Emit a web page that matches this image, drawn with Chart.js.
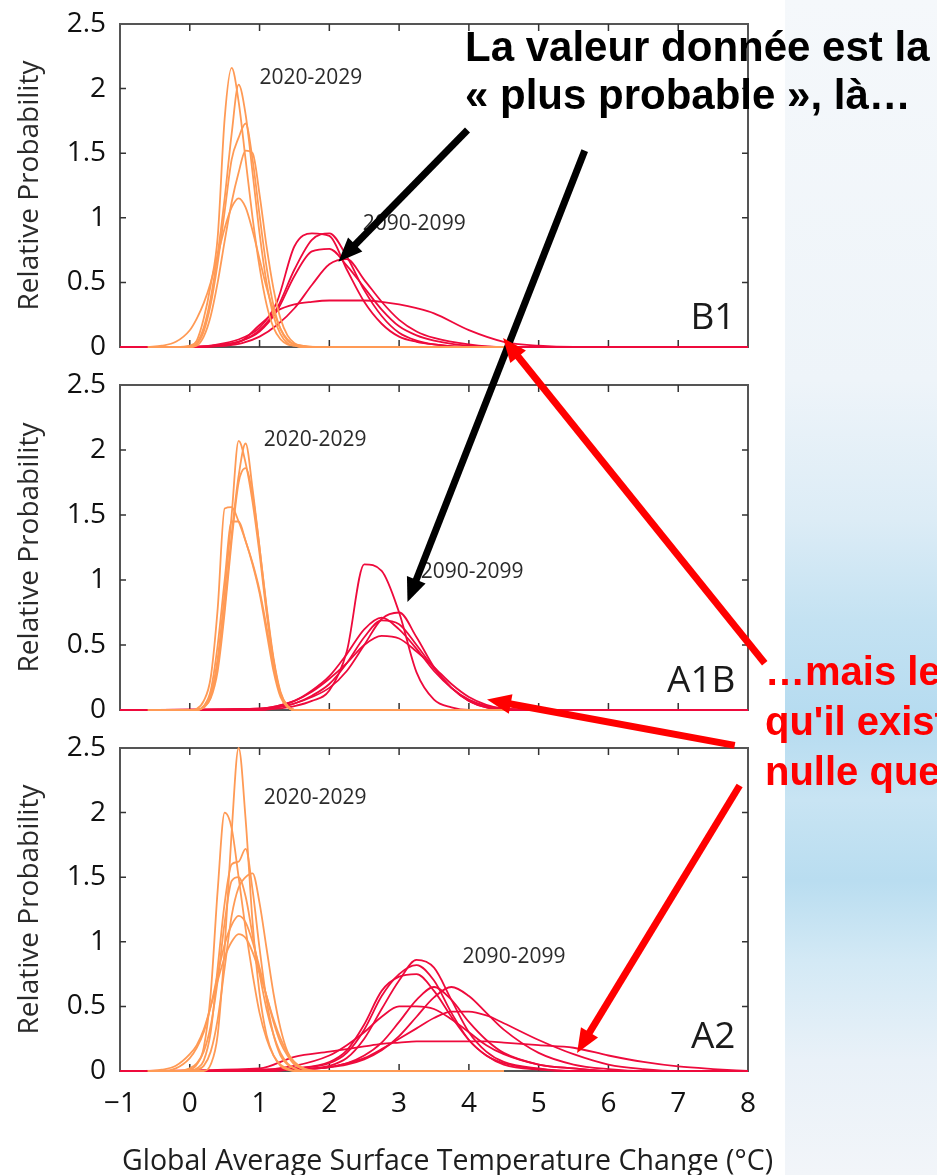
<!DOCTYPE html>
<html lang="fr">
<head>
<meta charset="utf-8">
<title>Relative Probability</title>
<script src="https://cdn.jsdelivr.net/npm/chart.js@4.4.1/dist/chart.umd.min.js"></script>
<style>
  html, body { margin: 0; padding: 0; }
  body { width: 937px; height: 1175px; position: relative; overflow: hidden; background: #fff; }
  .backdrop {
    position: absolute; left: 785px; top: 0; width: 152px; height: 1175px;
    background: linear-gradient(to bottom, #f5f8fb 0px, #eef4f9 380px, #dcecf6 520px, #c4e2f2 620px,
      #b5dbf0 720px, #c8e4f3 800px, #b9ddf0 880px, #d3e9f5 960px, #e9f1f8 1060px, #f2f5f9 1175px);
  }
  canvas.panel { position: absolute; left: 0; }
  #overlay { position: absolute; left: 0; top: 0; pointer-events: none; }
  .note { position: absolute; font-family: "Liberation Sans", Arial, sans-serif; font-weight: bold; white-space: nowrap; }
  #noteTop { left: 465px; top: 23px; font-size: 42px; line-height: 48px; color: #000; }
  #noteRed { left: 765px; top: 646px; font-size: 40px; line-height: 50px; color: #f00; }
</style>
</head>
<body>
<div class="backdrop"></div>
<canvas id="chartB1" class="panel" width="937" height="391" style="top:-10px"></canvas>
<canvas id="chartA1B" class="panel" width="937" height="393" style="top:351px"></canvas>
<canvas id="chartA2" class="panel" width="937" height="461" style="top:714px"></canvas>
<canvas id="overlay" width="937" height="1175"></canvas>
<div id="noteTop" class="note">La valeur donnée est la<br>« plus probable », là…</div>
<div id="noteRed" class="note">…mais le<br>qu'il existe<br>nulle que</div>
<script>
const FONT = '"Open Sans", "Noto Sans", sans-serif'
const ORANGE = '#ff9a55'
const RED = '#ee0a3c'

const periodLabels = ['2020-2029', '2090-2099']
const scenarioNames = ['B1', 'A1B', 'A2']
const xTitle = 'Global Average Surface Temperature Change (°C)'
const yTitle = 'Relative Probability'

// x grid of the 2020-2029 curves (all panels)
const orangeX = [-0.6, -0.4, -0.2, 0, 0.1, 0.2, 0.3, 0.4, 0.5, 0.6, 0.7, 0.8, 0.9, 1.0, 1.1, 1.2, 1.3, 1.4, 1.5, 1.6, 1.8, 4.5]

// B1
const b1Orange1 = [0, 0, 0, 0.01, 0.05, 0.22, 0.48, 0.85, 1.77, 2.16, 1.9, 1.45, 1.0, 0.62, 0.33, 0.15, 0.06, 0.02, 0.01, 0, 0, 0]
const b1Orange2 = [0, 0, 0, 0, 0.03, 0.15, 0.38, 0.72, 1.15, 1.65, 2.03, 1.8, 1.35, 0.88, 0.5, 0.24, 0.1, 0.03, 0.01, 0, 0, 0]
const b1Orange3 = [0, 0, 0, 0, 0.02, 0.12, 0.33, 0.65, 1.05, 1.45, 1.62, 1.73, 1.45, 1.02, 0.62, 0.32, 0.14, 0.05, 0.02, 0, 0, 0]
const b1Orange4 = [0, 0, 0, 0, 0.01, 0.08, 0.24, 0.5, 0.82, 1.12, 1.35, 1.52, 1.5, 1.18, 0.78, 0.45, 0.22, 0.09, 0.03, 0.01, 0, 0]
const b1Orange5 = [0, 0.01, 0.04, 0.13, 0.22, 0.34, 0.5, 0.71, 0.92, 1.08, 1.15, 1.08, 0.9, 0.68, 0.46, 0.28, 0.14, 0.06, 0.02, 0.01, 0, 0]

const b1RedX = [-1, 0, 0.5, 0.75, 1, 1.25, 1.5, 1.75, 2, 2.25, 2.5, 2.75, 3, 3.25, 3.5, 4, 4.5, 5, 5.5, 8]
const b1Red1 = [0, 0, 0.03, 0.07, 0.15, 0.35, 0.78, 0.88, 0.86, 0.6, 0.35, 0.18, 0.08, 0.04, 0.02, 0, 0, 0, 0, 0]
const b1Red2 = [0, 0, 0.02, 0.05, 0.13, 0.3, 0.6, 0.83, 0.88, 0.7, 0.44, 0.24, 0.11, 0.05, 0.02, 0, 0, 0, 0, 0]
const b1Red3 = [0, 0, 0.02, 0.05, 0.12, 0.28, 0.55, 0.74, 0.76, 0.63, 0.46, 0.29, 0.16, 0.09, 0.05, 0.01, 0, 0, 0, 0]
const b1Red4 = [0, 0, 0.01, 0.03, 0.08, 0.17, 0.3, 0.48, 0.64, 0.68, 0.52, 0.35, 0.21, 0.12, 0.07, 0.02, 0, 0, 0, 0]
const b1Red5 = [0, 0, 0.01, 0.05, 0.17, 0.28, 0.33, 0.35, 0.36, 0.36, 0.36, 0.35, 0.33, 0.3, 0.26, 0.13, 0.04, 0.01, 0, 0]

// A1B
const a1bOrange1 = [0, 0, 0, 0, 0, 0.03, 0.12, 0.4, 0.9, 1.5, 2.07, 1.9, 1.6, 1.2, 0.75, 0.38, 0.13, 0.03, 0, 0, 0, 0]
const a1bOrange2 = [0, 0, 0, 0, 0, 0.02, 0.1, 0.35, 0.8, 1.35, 1.8, 2.05, 1.7, 1.25, 0.8, 0.4, 0.14, 0.03, 0, 0, 0, 0]
const a1bOrange3 = [0, 0, 0, 0, 0, 0.02, 0.09, 0.3, 0.75, 1.3, 1.75, 1.86, 1.65, 1.25, 0.78, 0.38, 0.12, 0.03, 0, 0, 0, 0]
const a1bOrange4 = [0, 0, 0, 0, 0.01, 0.07, 0.25, 0.78, 1.55, 1.56, 1.45, 1.3, 1.13, 0.92, 0.64, 0.34, 0.12, 0.03, 0, 0, 0, 0]
const a1bOrange5 = [0, 0, 0, 0, 0, 0.03, 0.15, 0.5, 1.0, 1.45, 1.45, 1.3, 1.12, 0.9, 0.6, 0.3, 0.1, 0.02, 0, 0, 0, 0]

const a1bRedX = [-1, 1, 1.25, 1.5, 1.75, 2, 2.25, 2.5, 2.75, 3, 3.25, 3.5, 3.75, 4, 4.25, 4.5, 5, 8]
const a1bRed1 = [0, 0, 0.01, 0.03, 0.07, 0.15, 0.45, 1.12, 1.07, 0.75, 0.29, 0.08, 0.02, 0, 0, 0, 0, 0]
const a1bRed2 = [0, 0, 0.02, 0.05, 0.1, 0.17, 0.3, 0.5, 0.7, 0.75, 0.56, 0.33, 0.17, 0.07, 0.02, 0, 0, 0]
const a1bRed3 = [0, 0.01, 0.03, 0.07, 0.15, 0.26, 0.43, 0.62, 0.71, 0.62, 0.47, 0.3, 0.17, 0.08, 0.03, 0.01, 0, 0]
const a1bRed4 = [0, 0.01, 0.03, 0.07, 0.14, 0.24, 0.36, 0.5, 0.57, 0.55, 0.45, 0.33, 0.2, 0.1, 0.04, 0.01, 0, 0]
const a1bRed5 = [0, 0.01, 0.02, 0.05, 0.11, 0.2, 0.36, 0.56, 0.69, 0.66, 0.5, 0.32, 0.17, 0.07, 0.02, 0.01, 0, 0]

// A2
const a2Orange1 = [0, 0, 0, 0, 0, 0, 0.05, 0.28, 0.95, 1.85, 2.5, 1.95, 1.15, 0.6, 0.28, 0.12, 0.04, 0.01, 0, 0, 0, 0]
const a2Orange2 = [0, 0, 0, 0.01, 0.05, 0.18, 0.6, 1.4, 2.0, 1.88, 1.5, 1.1, 0.75, 0.45, 0.25, 0.12, 0.05, 0.02, 0, 0, 0, 0]
const a2Orange3 = [0, 0, 0, 0, 0.02, 0.08, 0.3, 0.8, 1.3, 1.6, 1.62, 1.72, 1.4, 0.95, 0.55, 0.28, 0.12, 0.05, 0.02, 0, 0, 0]
const a2Orange4 = [0, 0, 0, 0, 0.01, 0.04, 0.15, 0.4, 0.8, 1.2, 1.42, 1.5, 1.53, 1.3, 0.95, 0.6, 0.33, 0.15, 0.06, 0.02, 0, 0]
const a2Orange5 = [0, 0, 0, 0.02, 0.06, 0.15, 0.35, 0.7, 1.15, 1.47, 1.5, 1.35, 1.05, 0.75, 0.48, 0.28, 0.14, 0.06, 0.02, 0, 0, 0]
const a2Orange6 = [0, 0, 0.02, 0.1, 0.18, 0.3, 0.5, 0.75, 0.98, 1.13, 1.2, 1.15, 1.0, 0.8, 0.58, 0.38, 0.22, 0.12, 0.05, 0.02, 0, 0]
const a2Orange7 = [0, 0.01, 0.04, 0.13, 0.2, 0.32, 0.5, 0.7, 0.88, 1.0, 1.06, 1.03, 0.92, 0.76, 0.58, 0.4, 0.25, 0.14, 0.07, 0.03, 0, 0]

const a2RedX = [-1, 1, 1.5, 2, 2.25, 2.5, 2.75, 3, 3.25, 3.5, 3.75, 4, 4.25, 4.5, 5, 5.5, 6, 6.5, 7, 7.5, 8]
const a2Red1 = [0, 0, 0.01, 0.04, 0.1, 0.25, 0.48, 0.7, 0.86, 0.8, 0.55, 0.3, 0.15, 0.07, 0.02, 0, 0, 0, 0, 0, 0]
const a2Red2 = [0, 0, 0.02, 0.06, 0.14, 0.32, 0.58, 0.75, 0.82, 0.7, 0.45, 0.24, 0.12, 0.05, 0.01, 0, 0, 0, 0, 0, 0]
const a2Red3 = [0, 0, 0.02, 0.07, 0.16, 0.36, 0.62, 0.73, 0.75, 0.62, 0.42, 0.24, 0.12, 0.06, 0.015, 0, 0, 0, 0, 0, 0]
const a2Red4 = [0, 0, 0.01, 0.03, 0.06, 0.12, 0.22, 0.38, 0.55, 0.65, 0.55, 0.38, 0.24, 0.14, 0.05, 0.02, 0, 0, 0, 0, 0]
const a2Red5 = [0, 0, 0.01, 0.03, 0.05, 0.09, 0.16, 0.27, 0.42, 0.57, 0.65, 0.58, 0.45, 0.32, 0.14, 0.05, 0.015, 0, 0, 0, 0]
const a2Red6 = [0, 0.01, 0.04, 0.12, 0.2, 0.3, 0.42, 0.5, 0.5, 0.48, 0.4, 0.3, 0.2, 0.13, 0.05, 0.02, 0, 0, 0, 0, 0]
const a2Red7 = [0, 0, 0.01, 0.03, 0.06, 0.1, 0.17, 0.25, 0.33, 0.41, 0.46, 0.46, 0.43, 0.37, 0.24, 0.13, 0.05, 0.015, 0, 0, 0]
const a2Red8 = [0, 0.02, 0.11, 0.15, 0.17, 0.19, 0.21, 0.22, 0.23, 0.23, 0.23, 0.23, 0.23, 0.22, 0.2, 0.18, 0.12, 0.07, 0.035, 0.015, 0]

function series (xs, ys, color) {
  return {
    data: xs.map((x, i) => ({ x, y: ys[i] })),
    borderColor: color,
    borderWidth: 1.8,
    pointRadius: 0,
    cubicInterpolationMode: 'monotone',
    fill: false,
    clip: 4
  }
}

// frame + inward ticks on the four sides
const framePlugin = {
  id: 'frame',
  beforeDatasetsDraw: (chart) => {
    const { ctx, chartArea, scales } = chart
    const { left, right, top, bottom } = chartArea
    ctx.save()
    ctx.strokeStyle = '#555'
    ctx.lineWidth = 2
    ctx.strokeRect(left, top, right - left, bottom - top)
    ctx.strokeStyle = '#333'
    ctx.lineWidth = 1.5
    ctx.beginPath()
    scales.x.ticks.forEach(t => {
      if (t.value <= scales.x.min || t.value >= scales.x.max) return
      const px = scales.x.getPixelForValue(t.value)
      ctx.moveTo(px, top); ctx.lineTo(px, top + 7)
      ctx.moveTo(px, bottom); ctx.lineTo(px, bottom - 7)
    })
    scales.y.ticks.forEach(t => {
      if (t.value <= scales.y.min || t.value >= scales.y.max) return
      const py = scales.y.getPixelForValue(t.value)
      ctx.moveTo(left, py); ctx.lineTo(left + 6, py)
      ctx.moveTo(right, py); ctx.lineTo(right - 6, py)
    })
    ctx.stroke()
    ctx.restore()
  }
}

const labelPlugin = {
  id: 'panelLabels',
  afterDatasetsDraw: (chart, args, opts) => {
    const { ctx, scales, chartArea } = chart
    ctx.save()
    ctx.fillStyle = '#2a2a2a'
    ctx.font = '21px ' + FONT
    ctx.textAlign = 'left'
    ctx.textBaseline = 'middle'
    opts.periods.forEach((p, i) => {
      ctx.fillText(periodLabels[i], scales.x.getPixelForValue(p[0]), scales.y.getPixelForValue(p[1]))
    })
    ctx.fillStyle = '#1a1a1a'
    ctx.font = '37px ' + FONT
    ctx.textAlign = 'right'
    ctx.fillText(opts.name, scales.x.getPixelForValue(opts.nameAt[0]), scales.y.getPixelForValue(opts.nameAt[1]))
    // x axis title, written at its natural width (the scale title would squeeze it)
    if (opts.showTitle) {
      ctx.fillStyle = '#1e1e1e'
      ctx.font = '28.5px ' + FONT
      ctx.textAlign = 'left'
      ctx.textBaseline = 'alphabetic'
      ctx.fillText(xTitle, chartArea.left + 2, chartArea.bottom + 99)
    }
    ctx.restore()
  }
}

function makePanel (canvasId, p) {
  const datasets = []
  p.orange.forEach(ys => datasets.push(series(orangeX, ys, ORANGE)))
  p.red.forEach(ys => datasets.push(series(p.redX, ys, RED)))

  return new Chart(document.getElementById(canvasId), {
    type: 'line',
    data: { datasets },
    options: {
      responsive: false,
      animation: false,
      events: [],
      layout: { padding: { top: p.padTop, bottom: p.padBottom, left: 0, right: 189 } },
      plugins: {
        legend: { display: false },
        tooltip: { enabled: false },
        panelLabels: { periods: p.periods, name: p.name, nameAt: p.nameAt, showTitle: p.showX }
      },
      scales: {
        x: {
          type: 'linear',
          min: -1,
          max: 8,
          grid: { display: false, drawTicks: false },
          border: { display: false },
          ticks: {
            display: p.showX,
            stepSize: 1,
            autoSkip: false,
            padding: 16,
            color: '#111',
            font: { family: FONT, size: 28 },
            callback: v => v < 0 ? '\u2212' + Math.abs(v) : String(v)
          },
          afterFit: s => { s.height = p.xHeight }
        },
        y: {
          min: 0,
          max: 2.5,
          grid: { display: false, drawTicks: false },
          border: { display: false },
          ticks: {
            stepSize: 0.5,
            padding: 14,
            color: '#111',
            font: { family: FONT, size: 28 },
            callback: v => String(v)
          },
          title: {
            display: true,
            text: yTitle,
            color: '#2a2a2a',
            font: { family: FONT, size: 28 },
            padding: { top: 13, bottom: 0 }
          },
          afterFit: s => { s.width = 120 }
        }
      }
    },
    plugins: [framePlugin, labelPlugin]
  })
}

const chartB1 = makePanel('chartB1', {
  orange: [b1Orange1, b1Orange2, b1Orange3, b1Orange4, b1Orange5],
  redX: b1RedX,
  red: [b1Red1, b1Red2, b1Red3, b1Red4, b1Red5],
  name: scenarioNames[0], nameAt: [7.82, 0.22],
  periods: [[1.0, 2.08], [2.48, 0.95]],
  padTop: 34, padBottom: 34, xHeight: 0, showX: false
})

const chartA1B = makePanel('chartA1B', {
  orange: [a1bOrange1, a1bOrange2, a1bOrange3, a1bOrange4, a1bOrange5],
  redX: a1bRedX,
  red: [a1bRed1, a1bRed2, a1bRed3, a1bRed4, a1bRed5],
  name: scenarioNames[1], nameAt: [7.82, 0.22],
  periods: [[1.06, 2.08], [3.31, 1.06]],
  padTop: 34, padBottom: 34, xHeight: 0, showX: false
})

const chartA2 = makePanel('chartA2', {
  orange: [a2Orange1, a2Orange2, a2Orange3, a2Orange4, a2Orange5, a2Orange6, a2Orange7],
  redX: a2RedX,
  red: [a2Red1, a2Red2, a2Red3, a2Red4, a2Red5, a2Red6, a2Red7, a2Red8],
  name: scenarioNames[2], nameAt: [7.82, 0.26],
  periods: [[1.06, 2.11], [3.91, 0.88]],
  padTop: 34, padBottom: 0, xHeight: 104, showX: true
})

// annotation arrows, ends given in the data space of a panel
function pagePoint (chart, x, y) {
  return [
    chart.canvas.offsetLeft + chart.scales.x.getPixelForValue(x),
    chart.canvas.offsetTop + chart.scales.y.getPixelForValue(y)
  ]
}

const arrows = [
  { color: '#000', from: [chartB1, 3.98, 1.68], to: [chartB1, 2.13, 0.66] },
  { color: '#000', from: [chartB1, 5.66, 1.52], to: [chartA1B, 3.12, 0.83] },
  { color: '#f00', from: [chartA1B, 8.24, 0.36], to: [chartB1, 4.49, 0.07] },
  { color: '#f00', from: [chartA2, 7.81, 2.52], to: [chartA1B, 4.26, 0.08] },
  { color: '#f00', from: [chartA2, 7.88, 2.21], to: [chartA2, 5.55, 0.14] }
]

function drawArrow (ctx, [x1, y1], [x2, y2], color) {
  const ang = Math.atan2(y2 - y1, x2 - x1)
  const head = 24
  const half = 10
  const bx = x2 - head * Math.cos(ang)
  const by = y2 - head * Math.sin(ang)
  ctx.strokeStyle = color
  ctx.fillStyle = color
  ctx.lineWidth = 7
  ctx.beginPath()
  ctx.moveTo(x1, y1)
  ctx.lineTo(bx + 4 * Math.cos(ang), by + 4 * Math.sin(ang))
  ctx.stroke()
  ctx.beginPath()
  ctx.moveTo(x2, y2)
  ctx.lineTo(bx + half * Math.sin(ang), by - half * Math.cos(ang))
  ctx.lineTo(bx - half * Math.sin(ang), by + half * Math.cos(ang))
  ctx.closePath()
  ctx.fill()
}

const overlay = document.getElementById('overlay').getContext('2d')
arrows.forEach(a => {
  drawArrow(overlay, pagePoint(...a.from), pagePoint(...a.to), a.color)
})
</script>
</body>
</html>
